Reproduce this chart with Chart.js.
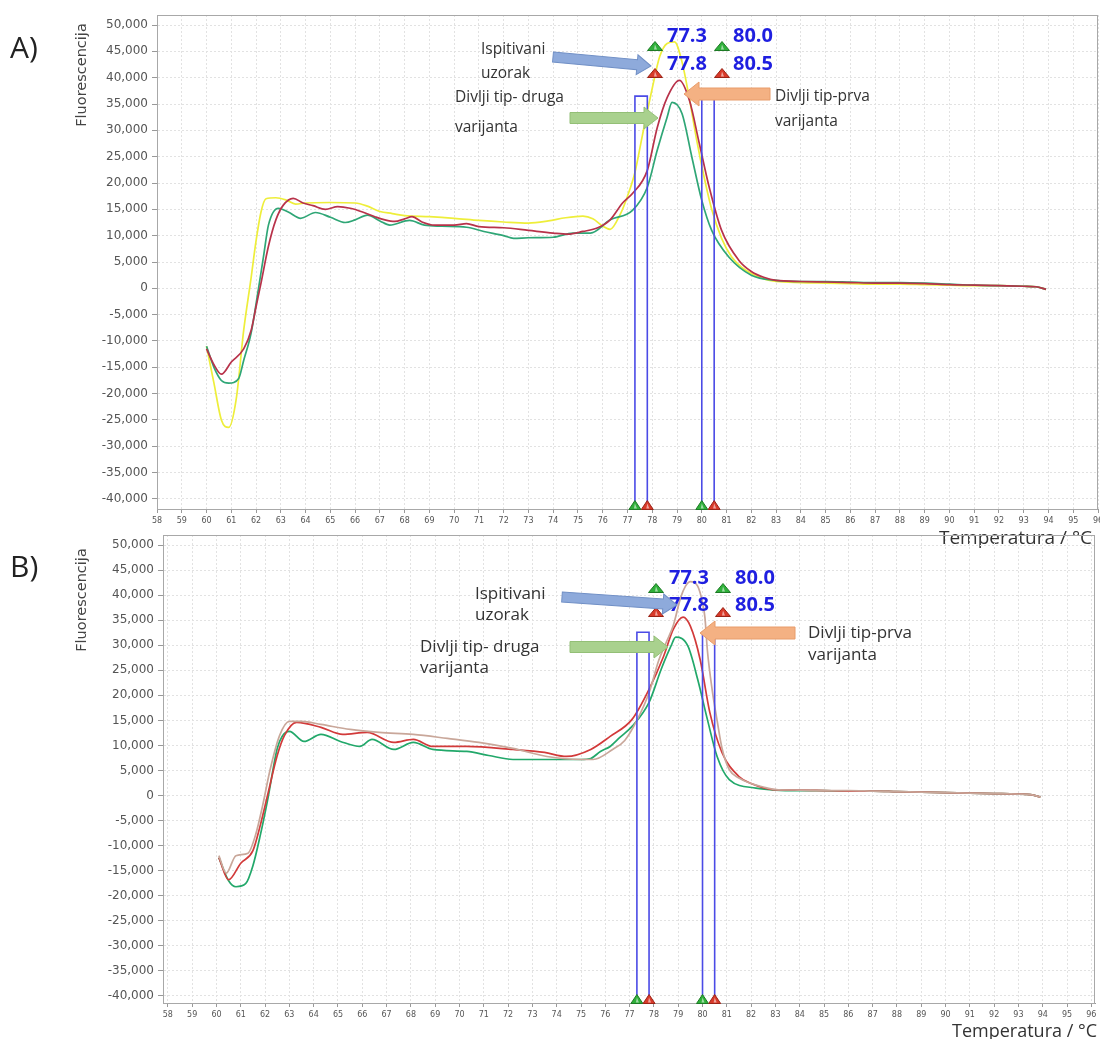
<!DOCTYPE html>
<html><head><meta charset="utf-8">
<script src="https://cdn.jsdelivr.net/npm/chart.js@4/dist/chart.umd.min.js"></script>
<style>
html,body{margin:0;padding:0;background:#fff;width:1100px;height:1039px;overflow:hidden}
.wrap{position:absolute;left:0;width:1100px}
#wa{top:0;height:550px}
#wb{top:520px;height:519px}
canvas{display:block}
</style></head><body>
<div class="wrap" id="wa"><canvas id="ca" width="1100" height="550"></canvas></div>
<div class="wrap" id="wb"><canvas id="cb" width="1100" height="519"></canvas></div>
<script>
// ---------- tick labels ----------
const xTickLabels = [58,59,60,61,62,63,64,65,66,67,68,69,70,71,72,73,74,75,76,77,78,79,80,81,82,83,84,85,86,87,88,89,90,91,92,93,94,95,96];
const yTickLabels = [-40000,-35000,-30000,-25000,-20000,-15000,-10000,-5000,0,5000,10000,15000,20000,25000,30000,35000,40000,45000,50000];

// ---------- melting windows ----------
const windowLeft  = [77.3, 80.0];
const windowRight = [77.8, 80.5];
const windowTopA = 36500;
const windowTopB = 32600;
const tmTop = ['77.3', '80.0'];
const tmBottom = ['77.8', '80.5'];

// ---------- Panel A ----------
// Ispitivani uzorak (yellow)
const tempA_sample = [60.0,60.3,60.6,60.9,61.2,61.5,61.8,62.0,62.2,62.4,62.8,63.2,63.6,64.0,65.0,66.0,66.5,67.0,67.5,68.0,69.0,70.0,71.0,72.0,73.0,73.8,74.5,75.2,75.6,76.0,76.3,76.7,77.0,77.3,77.6,78.0,78.3,78.6,78.9,79.2,79.5,79.8,80.1,80.4,80.8,81.2,81.6,82.0,82.5,83.0,84,85,86,87,88,89,90,91,92,93,93.5,93.9];
const fluorA_sample = [-11000,-18000,-25000,-26400,-21000,-8000,2000,9000,14500,17000,17200,16800,16000,16200,16300,16200,15600,14600,14200,13800,13600,13300,12900,12600,12400,12800,13400,13700,13200,11800,11200,14000,17500,22000,29000,38000,44000,46500,46800,43000,36000,28000,21000,15000,9500,6000,4000,2800,1800,1300,1100,1000,900,800,800,700,600,500,500,400,300,-200];
// Divlji tip - prva varijanta (red)
const tempA_wt1 = [60.0,60.3,60.6,61.0,61.5,61.8,62.0,62.2,62.5,62.8,63.1,63.5,63.9,64.3,64.8,65.3,65.8,66.3,66.8,67.2,67.6,68.0,68.3,68.7,69.2,70.0,70.5,71.0,72.0,73.0,74.0,74.6,75.2,75.8,76.3,76.8,77.2,77.8,78.2,78.6,79.1,79.5,79.9,80.3,80.8,81.5,82.0,82.5,83.0,84,85,86,87,88,89,90,91,92,93,93.5,93.9];
const fluorA_wt1 = [-11500,-14500,-16300,-14000,-11500,-8000,-3500,1000,8000,13000,15800,17100,16200,15700,15000,15500,15200,14500,13600,13000,12700,13200,13600,12600,12000,12000,12300,11700,11500,11000,10500,10300,10800,11500,13000,16200,18000,22400,30500,36200,39500,35700,27500,19200,11000,5300,3200,2100,1500,1300,1200,1100,1000,1000,900,700,600,500,400,300,-200];
// Divlji tip - druga varijanta (green)
const tempA_wt2 = [60.0,60.3,60.6,60.9,61.3,61.5,61.8,62.1,62.3,62.5,62.9,63.3,63.8,64.4,65.0,65.6,66.0,66.5,67.0,67.4,68.2,68.8,69.5,70.5,71.2,72.0,72.4,73.0,74.0,74.8,75.5,76.3,77.2,77.8,78.2,78.6,78.8,79.2,79.6,80.0,80.4,81.1,82.0,83.0,84,85,86,87,88,89,90,91,92,93,93.5,93.9];
const fluorA_wt2 = [-11000,-15000,-17500,-18000,-17100,-13700,-8500,0,6000,12000,15200,14500,13300,14400,13500,12500,13000,13900,12800,12000,12900,12000,11800,11600,10800,10000,9500,9600,9700,10500,10500,13000,14800,19200,26200,32500,35300,33200,24900,16700,11000,5900,2500,1500,1300,1300,1200,1100,1100,1000,800,600,500,400,300,-200];

// ---------- Panel B ----------
// Ispitivani uzorak (tan)
const tempB_sample = [60.1,60.4,60.8,61.3,61.6,61.9,62.2,62.6,63.0,63.5,64.3,65.5,66.7,68.1,69.5,70.8,72.2,73.6,75.0,75.5,76.3,76.8,77.3,77.8,78.2,78.5,78.8,79.1,79.3,79.5,79.8,80.0,80.1,80.2,80.4,80.6,80.8,81.1,81.5,82.0,82.5,83.0,84,85,86,87,88,89,90,91,92,93,93.5,93.9];
const fluorB_sample = [-12000,-15500,-12000,-11500,-8000,-2000,5000,12000,14800,14800,14200,13200,12600,12200,11400,10600,9400,7800,7200,7200,9200,11000,15000,20500,27000,30500,34000,39500,41800,42700,41800,38500,35500,29000,21000,15000,9500,5200,3500,2400,1700,1200,1100,1000,1000,900,800,700,600,500,400,300,200,-300];
// Divlji tip - prva varijanta (red)
const tempB_wt1 = [60.1,60.5,61.0,61.5,61.8,62.1,62.5,62.8,63.3,64.3,65.2,66.2,67.3,68.1,68.9,70.3,72.2,73.5,74.4,75.4,76.2,77.1,77.8,78.4,78.8,79.2,79.5,79.9,80.3,80.8,81.5,82.0,82.9,84,85,86,87,88,89,90,91,92,93,93.5,93.9];
const fluorB_wt1 = [-12400,-16800,-13500,-11000,-6000,0,8000,12000,14600,13600,12200,12600,10600,11200,9800,9800,9200,8600,7800,9200,11800,15200,21200,27800,33200,35600,33800,27200,16600,8600,3800,2400,1200,1100,1000,900,900,800,700,600,500,400,300,200,-300];
// Divlji tip - druga varijanta (green)
const tempB_wt2 = [60.1,60.5,60.8,61.2,61.5,61.8,62.1,62.5,62.7,63.0,63.6,64.3,65.1,65.9,66.4,67.3,68.1,68.9,70.3,71.2,72.2,73.5,75.0,75.4,75.8,76.2,76.6,77.1,77.8,78.3,78.7,78.9,79.4,79.8,80.2,80.6,81.1,82.2,83.0,84,85,86,87,88,89,90,91,92,93,93.5,93.9];
const fluorB_wt2 = [-12400,-17000,-18200,-17600,-14000,-8000,-1000,9400,11800,12800,10800,12200,10800,9800,11200,9200,10600,9200,8800,8000,7200,7200,7200,7400,8800,9800,11600,13800,18600,25200,29800,31600,29800,23200,15200,7800,3200,1500,1100,1000,1000,900,900,800,700,600,500,400,300,200,-300];

// ---------- helpers ----------
function pts(t, f){ const n=Math.min(t.length,f.length); const o=[]; for(let i=0;i<n;i++) o.push({x:t[i],y:f[i]}); return o; }
function windowPts(l, r, top){ return [{x:l,y:-60000},{x:l,y:top},{x:r,y:top},{x:r,y:-60000}]; }
function curve(data, color){ return {data, borderColor:color, borderWidth:1.7, pointRadius:0, fill:false, cubicInterpolationMode:'monotone'}; }
function rectDs(data){ return {data, borderColor:'#4b4be6', borderWidth:1.6, pointRadius:0, fill:false, tension:0}; }

function arrow(ctx,x1,y1,x2,y2,bw,hl,hw,fill,stroke){
  const a=Math.atan2(y2-y1,x2-x1), L=Math.hypot(x2-x1,y2-y1);
  ctx.save(); ctx.translate(x1,y1); ctx.rotate(a);
  ctx.beginPath();
  ctx.moveTo(0,-bw/2); ctx.lineTo(L-hl,-bw/2); ctx.lineTo(L-hl,-hw/2); ctx.lineTo(L,0);
  ctx.lineTo(L-hl,hw/2); ctx.lineTo(L-hl,bw/2); ctx.lineTo(0,bw/2); ctx.closePath();
  ctx.fillStyle=fill; ctx.fill(); ctx.strokeStyle=stroke; ctx.lineWidth=1; ctx.stroke();
  ctx.restore();
}
function tri(ctx,x,y,w,h,fill,stroke){
  ctx.save(); ctx.beginPath(); ctx.moveTo(x,y-h/2); ctx.lineTo(x+w/2,y+h/2); ctx.lineTo(x-w/2,y+h/2); ctx.closePath();
  ctx.fillStyle=fill; ctx.fill(); ctx.strokeStyle=stroke; ctx.lineWidth=1; ctx.stroke();
  ctx.beginPath(); ctx.moveTo(x,y-h/2+3); ctx.lineTo(x+2,y+h/2-1); ctx.lineTo(x-1,y+h/2-1); ctx.closePath();
  ctx.fillStyle='rgba(255,255,255,0.55)'; ctx.fill(); ctx.restore();
}
const GREEN_T='#2fb03a', GREEN_S='#1d7a25', RED_T='#d93a2a', RED_S='#9a2316';

function annotPlugin(L){
  return { id:'annot', afterDraw(chart){
    const ctx=chart.ctx, ca=chart.chartArea, xs=chart.scales.x;
    ctx.save();
    // frame
    ctx.strokeStyle='#a8a8a8'; ctx.lineWidth=1;
    ctx.strokeRect(ca.left+0.5, ca.top+0.5, ca.right-ca.left-1, ca.bottom-ca.top);
    // panel letter
    ctx.fillStyle='#222'; ctx.font='30px "Open Sans"'; ctx.textAlign='left'; ctx.textBaseline='alphabetic';
    ctx.fillText(L.letter, 10, L.letterY);
    // y title
    ctx.save(); ctx.translate(L.yTitleX, L.yTitleY); ctx.rotate(-Math.PI/2);
    ctx.font='14.5px "DejaVu Sans"'; ctx.fillStyle='#444'; ctx.textAlign='center'; ctx.textBaseline='middle';
    ctx.fillText('Fluorescencija',0,0); ctx.restore();
    // x title
    ctx.font=L.xTitleFont; ctx.fillStyle='#333'; ctx.textAlign='right'; ctx.textBaseline='alphabetic';
    ctx.fillText('Temperatura / \u00B0C', L.xTitleX, L.xTitleY);
    // axis triangles at melting windows
    for(let i=0;i<windowLeft.length;i++){
      tri(ctx, xs.getPixelForValue(windowLeft[i]), ca.bottom-4, 12, 9, GREEN_T, GREEN_S);
      tri(ctx, xs.getPixelForValue(windowRight[i]), ca.bottom-4, 12, 9, RED_T, RED_S);
    }
    // top markers and Tm numbers
    for(let i=0;i<2;i++){
      tri(ctx, L.triX[i], L.triY[0], 15, 9, GREEN_T, GREEN_S);
      tri(ctx, L.triX[i], L.triY[1], 15, 9, RED_T, RED_S);
      ctx.font='bold 20px "Open Sans"'; ctx.fillStyle='#1f1fe0'; ctx.textAlign='left';
      ctx.fillText(tmTop[i], L.numX[i], L.numY[0]);
      ctx.fillText(tmBottom[i], L.numX[i], L.numY[1]);
    }
    // arrows
    arrow(ctx, ...L.blue, 10, 14, 20, '#8eaadb', '#7190c6');
    arrow(ctx, ...L.green, 11, 14, 22, '#a9d18e', '#93bf76');
    arrow(ctx, ...L.orange, 12, 15, 24, '#f4b183', '#e89c6a');
    // texts
    ctx.font=L.textFont; ctx.fillStyle='#333'; ctx.textAlign='left';
    L.texts.forEach(t=>ctx.fillText(t[0], t[1], t[2]));
    ctx.restore();
  }};
}

function makeChart(id, datasets, sc, pad, yW, L){
  return new Chart(document.getElementById(id), {
    type:'line',
    data:{datasets},
    options:{
      responsive:false, animation:false,
      layout:{padding:pad},
      plugins:{legend:{display:false}, tooltip:{enabled:false}},
      scales:{
        x:{type:'linear', min:sc.xmin, max:sc.xmax,
           afterBuildTicks:s=>{s.ticks=xTickLabels.map(v=>({value:v}));},
           afterFit:s=>{s.height=22; s.paddingLeft=0; s.paddingRight=0;},
           ticks:{autoSkip:false, maxRotation:0, font:{size:8, family:'DejaVu Sans'}, color:'#555', padding:3, callback:v=>String(v)},
           grid:{color:'#e2e2e2', tickColor:'#999', tickLength:4, lineWidth:1},
           border:{color:'#999', dash:[2,2]}},
        y:{type:'linear', min:sc.ymin, max:sc.ymax,
           afterBuildTicks:s=>{s.ticks=yTickLabels.map(v=>({value:v}));},
           afterFit:s=>{s.width=yW; s.paddingTop=0; s.paddingBottom=0;},
           ticks:{font:{size:12, family:'DejaVu Sans'}, color:'#555', padding:4, callback:v=>v.toLocaleString('en-US')},
           grid:{color:'#e2e2e2', tickColor:'#999', tickLength:5, lineWidth:1},
           border:{color:'#999', dash:[2,2]}}
      }
    },
    plugins:[annotPlugin(L)]
  });
}

const dsA = [
  rectDs(windowPts(windowLeft[0], windowRight[0], windowTopA)),
  rectDs(windowPts(windowLeft[1], windowRight[1], windowTopA)),
  curve(pts(tempA_wt1, fluorA_wt1), '#b8324a'),
  curve(pts(tempA_wt2, fluorA_wt2), '#2fa676'),
  curve(pts(tempA_sample, fluorA_sample), '#eeee3a')
];
makeChart('ca', dsA, {xmin:58, xmax:96, ymin:-41900, ymax:51900}, {left:0,right:2,top:15,bottom:19}, 157, {
  letter:'A)', letterY:58, yTitleX:82, yTitleY:75, xTitleX:1092, xTitleY:544, xTitleFont:'19px "Open Sans"',
  triX:[655,722], triY:[46,73], numX:[667,733], numY:[42,70],
  blue:[553,57,651,66], green:[570,118,658,118], orange:[770,94,684,94],
  textFont:'15.5px "Open Sans"',
  texts:[['Ispitivani',481,54],['uzorak',481,78],['Divlji tip- druga',455,102],['varijanta',455,132],['Divlji tip-prva',775,101],['varijanta',775,126]]
});

const dsB = [
  rectDs(windowPts(windowLeft[0], windowRight[0], windowTopB)),
  rectDs(windowPts(windowLeft[1], windowRight[1], windowTopB)),
  curve(pts(tempB_sample, fluorB_sample), '#c9a79a'),
  curve(pts(tempB_wt1, fluorB_wt1), '#d23a3a'),
  curve(pts(tempB_wt2, fluorB_wt2), '#22a86a')
];
makeChart('cb', dsB, {xmin:57.8, xmax:96.15, ymin:-41400, ymax:52000}, {left:0,right:5,top:15,bottom:14}, 163, {
  letter:'B)', letterY:57, yTitleX:82, yTitleY:80, xTitleX:1097, xTitleY:517, xTitleFont:'18px "Open Sans"',
  triX:[656,723], triY:[68,92], numX:[669,735], numY:[64,91],
  blue:[562,77,677,85], green:[570,127,668,127], orange:[795,113,700,113],
  textFont:'17px "Open Sans"',
  texts:[['Ispitivani',475,79],['uzorak',475,100],['Divlji tip- druga',420,132],['varijanta',420,153],['Divlji tip-prva',808,118],['varijanta',808,140]]
});
</script></body></html>
